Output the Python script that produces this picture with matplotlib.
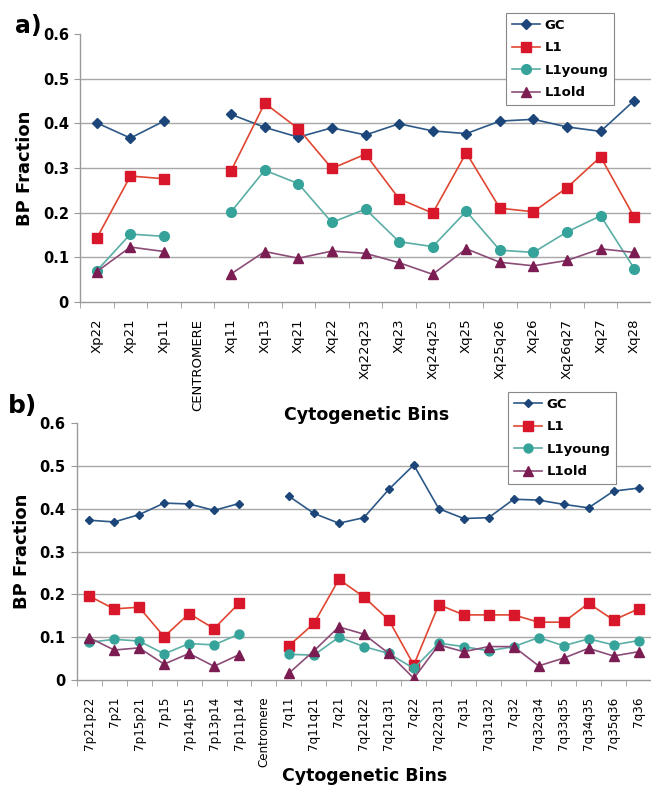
import matplotlib
matplotlib.use('Agg')
import matplotlib.pyplot as plt
import numpy as np

nan = np.nan

# ── Data: panel a (X chromosome) ────────────────────────────────────────────
bins_x = ['Xp22', 'Xp21', 'Xp11', 'CENTROMERE', 'Xq11', 'Xq13', 'Xq21', 'Xq22',
          'Xq22q23', 'Xq23', 'Xq24q25', 'Xq25', 'Xq25q26', 'Xq26', 'Xq26q27',
          'Xq27', 'Xq28']
gc_x = [0.401, 0.367, 0.405, nan, 0.420, 0.391, 0.369, 0.390, 0.374, 0.399,
        0.383, 0.377, 0.405, 0.409, 0.392, 0.382, 0.451]
l1_x = [0.143, 0.282, 0.276, nan, 0.294, 0.445, 0.388, 0.299, 0.331, 0.231,
        0.199, 0.334, 0.210, 0.202, 0.256, 0.325, 0.190]
l1young_x = [0.070, 0.152, 0.147, nan, 0.202, 0.295, 0.265, 0.178, 0.208, 0.135,
             0.124, 0.203, 0.116, 0.111, 0.157, 0.193, 0.075]
l1old_x = [0.068, 0.123, 0.113, nan, 0.063, 0.113, 0.098, 0.114, 0.109, 0.088,
           0.062, 0.119, 0.089, 0.081, 0.093, 0.119, 0.111]

# ── Data: panel b (chromosome 7) ────────────────────────────────────────────
bins_7 = ['7p21p22', '7p21', '7p15p21', '7p15', '7p14p15', '7p13p14', '7p11p14',
          'Centromere', '7q11', '7q11q21', '7q21', '7q21q22', '7q21q31', '7q22',
          '7q22q31', '7q31', '7q31q32', '7q32', '7q32q34', '7q33q35', '7q34q35',
          '7q35q36', '7q36']
gc_7 = [0.373, 0.369, 0.386, 0.413, 0.411, 0.396, 0.412, nan, 0.429, 0.389,
        0.366, 0.379, 0.445, 0.502, 0.400, 0.377, 0.379, 0.422, 0.420, 0.410,
        0.402, 0.441, 0.448]
l1_7 = [0.196, 0.166, 0.170, 0.101, 0.155, 0.120, 0.179, nan, 0.080, 0.132,
        0.235, 0.194, 0.140, 0.035, 0.176, 0.152, 0.152, 0.152, 0.135, 0.135,
        0.179, 0.140, 0.166]
l1young_7 = [0.088, 0.095, 0.091, 0.061, 0.085, 0.082, 0.107, nan, 0.060, 0.058,
             0.100, 0.078, 0.062, 0.027, 0.086, 0.078, 0.068, 0.078, 0.099, 0.080,
             0.096, 0.082, 0.092]
l1old_7 = [0.099, 0.070, 0.075, 0.037, 0.062, 0.032, 0.059, nan, 0.016, 0.068,
           0.124, 0.107, 0.062, 0.004, 0.082, 0.066, 0.078, 0.078, 0.033, 0.051,
           0.074, 0.056, 0.066]

series_names = ['GC', 'L1', 'L1young', 'L1old']
y_ticks = [0, 0.1, 0.2, 0.3, 0.4, 0.5, 0.6]
y_labels = ['0', '0.1', '0.2', '0.3', '0.4', '0.5', '0.6']

# ── Styles ──────────────────────────────────────────────────────────────────
styles = {
    'GC':      dict(color='#2c5887', marker='D', ms=4.8, mfc='#1c4679', mec='#1c4679'),
    'L1':      dict(color='#e04632', marker='s', ms=7.2, mfc='#d9172b', mec='#d9172b'),
    'L1young': dict(color='#5aaea5', marker='o', ms=7.0, mfc='#35a39a', mec='#35a39a'),
    'L1old':   dict(color='#8b4d78', marker='^', ms=7.2, mfc='#7b1d52', mec='#7b1d52'),
}

W, H = 651, 787
fig = plt.figure(figsize=(W / 100, H / 100), dpi=100)
fig.patch.set_facecolor('white')


def px_axes(left, top, bottom):
    return fig.add_axes([left / W, 1 - bottom / H, (W - left) / W, (bottom - top) / H])


def draw_panel(ax, bins, data, xmax, tick_size, ms_scale):
    x = np.arange(len(bins))
    for name, vals in zip(series_names, data):
        st = dict(styles[name])
        st['ms'] = st['ms'] * ms_scale
        ax.plot(x, vals, lw=1.2, label=name, zorder=3, **st)

    ax.set_xlim(-0.5, xmax)
    ax.set_ylim(0, 0.6)
    ax.set_yticks(y_ticks)
    ax.set_yticklabels(y_labels, fontsize=10.5, fontweight='bold')
    ax.set_xticks(x)
    ax.set_xticklabels(bins, rotation=90, fontsize=tick_size, va='top')
    ax.set_xticks(np.arange(-0.5, len(bins), 1), minor=True)
    ax.tick_params(axis='x', which='major', length=0, pad=12)
    ax.tick_params(axis='x', which='minor', length=4, color='#999999', direction='out')
    ax.tick_params(axis='y', length=4, color='#999999', pad=4)

    for yv in y_ticks[1:-1]:
        ax.axhline(yv, color='#a8a8a8', lw=1.0, zorder=1)
    for s in ['top', 'right']:
        ax.spines[s].set_visible(False)
    for s in ['left', 'bottom']:
        ax.spines[s].set_color('#999999')
        ax.spines[s].set_linewidth(1.0)

    ax.set_ylabel('BP Fraction', fontsize=13, fontweight='bold', labelpad=6)


def legend_at(ax, left, top):
    leg = ax.legend(loc='upper left', bbox_to_anchor=(left / W, 1 - top / H),
                    bbox_transform=fig.transFigure, borderaxespad=0,
                    frameon=True, fancybox=False, framealpha=1, edgecolor='#888888',
                    prop={'weight': 'bold', 'size': 9.5}, handlelength=2.1,
                    handletextpad=0.35, labelspacing=0.72, borderpad=0.45)
    leg.get_frame().set_linewidth(0.8)
    leg.set_zorder(5)


# ══════════════════════════════════════════════════════════════════════════
# PANEL a
# ══════════════════════════════════════════════════════════════════════════
ax_a = px_axes(80, 34, 302)
draw_panel(ax_a, bins_x, [gc_x, l1_x, l1young_x, l1old_x], 16.42, 9.5, 1.0)
legend_at(ax_a, 506, 13)
fig.text(15 / W, 1 - 33 / H, 'a)', fontsize=17, fontweight='bold', va='baseline')
fig.text(367 / W, 1 - 415 / H, 'Cytogenetic Bins', fontsize=12.5,
         fontweight='bold', ha='center', va='center')

# ══════════════════════════════════════════════════════════════════════════
# PANEL b
# ══════════════════════════════════════════════════════════════════════════
ax_b = px_axes(76.7, 423, 680)
draw_panel(ax_b, bins_7, [gc_7, l1_7, l1young_7, l1old_7], 22.29, 8.6, 0.92)
legend_at(ax_b, 508, 392)
fig.text(8 / W, 1 - 413 / H, 'b)', fontsize=18, fontweight='bold', va='baseline')
fig.text(365 / W, 1 - 776 / H, 'Cytogenetic Bins', fontsize=12.5,
         fontweight='bold', ha='center', va='center')

fig.savefig('out.png', dpi=100, facecolor='white')
